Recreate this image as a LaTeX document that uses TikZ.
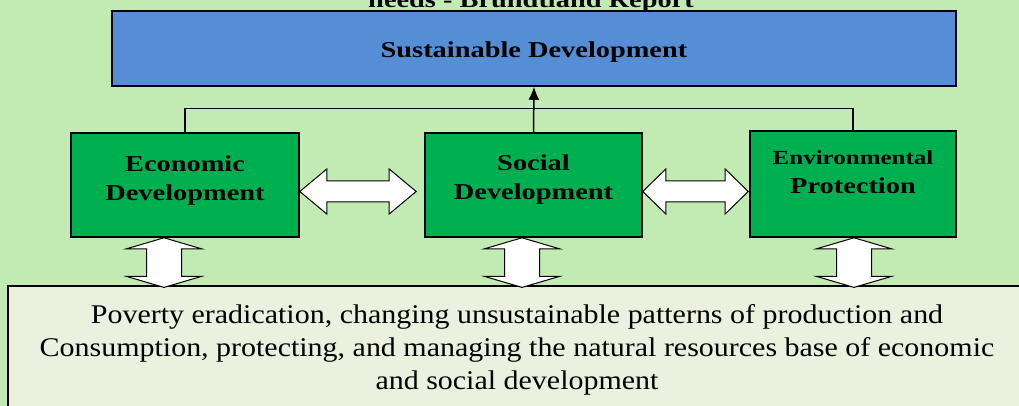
\documentclass[tikz,border=0pt]{standalone}
\usepackage{fontspec}
\setmainfont{Liberation Serif}[FakeStretch=1.11]
\newfontfamily\headfont{Liberation Serif}[FakeStretch=1.25]
\usetikzlibrary{arrows.meta, calc}

\definecolor{pagegreen}{RGB}{194,235,179}
\definecolor{sdblue}{RGB}{85,142,213}
\definecolor{devgreen}{RGB}{0,176,80}
\definecolor{basegreen}{RGB}{235,241,222}

% wide white two-way arrows
\newcommand\sidearrow[3]{%
 \draw[biarrow] let \p1=#1, \p2=#2 in
   (\x1,\y1) -- (\x1+#3,\y1+22.5pt) -- (\x1+#3,\y1+10.5pt) -- (\x2-#3,\y1+10.5pt)
   -- (\x2-#3,\y1+22.5pt) -- (\x2,\y1) -- (\x2-#3,\y1-22.5pt) -- (\x2-#3,\y1-10.5pt)
   -- (\x1+#3,\y1-10.5pt) -- (\x1+#3,\y1-22.5pt) -- cycle;}
\newcommand\basearrow[2]{%
 \draw[biarrow] let \p1=#1, \p2=#2 in
   (\x1,\y1) -- (\x1+37.5pt,\y1-11pt) -- (\x1+17.5pt,\y1-11pt) -- (\x1+17.5pt,\y2+9pt)
   -- (\x1+37.5pt,\y2+9pt) -- (\x1,\y2-2pt) -- (\x1-37.5pt,\y2+9pt) -- (\x1-17.5pt,\y2+9pt)
   -- (\x1-17.5pt,\y1-11pt) -- (\x1-37.5pt,\y1-11pt) -- cycle;}

\begin{document}
\begin{tikzpicture}[x=1pt,y=1pt,
 devbox/.style={draw,line width=1.6pt,fill=devgreen,inner sep=0pt},
 boxtext/.style={font=\headfont\bfseries\fontsize{22.7}{29}\selectfont,align=center},
 link/.style={line width=1.5pt},
 biarrow/.style={draw,fill=white,line width=1pt}]
 \fill[pagegreen] (0,0) rectangle (1019,406);
 \useasboundingbox (0,0) rectangle (1019,406);

 % heading, cut off by the page
 \node[boxtext,anchor=base] (report) at (531,398) {needs - Brundtland Report};
 \node[devbox,fill=sdblue,minimum width=844pt,minimum height=75pt,
   label={[boxtext,yshift=-4pt]center:Sustainable Development}] (sd) at (534,357.5) {};

 % the three pillars
 \node[devbox,minimum width=228pt,minimum height=104pt,
   label={[boxtext,yshift=4.5pt]center:Economic\\Development}] (econ) at (185,221) {};
 \node[devbox,minimum width=217pt,minimum height=104pt,
   label={[boxtext,yshift=5pt]center:Social\\Development}] (social) at (533.5,221) {};
 \node[devbox,minimum width=206pt,minimum height=106pt,
   label={[boxtext,yshift=12pt]center:{\fontsize{20}{28}\selectfont Environmental}\\Protection}] (env) at (853,222) {};

 \node[draw,line width=1.2pt,fill=basegreen,minimum width=1018pt,minimum height=128pt,
   align=center,font=\fontsize{27}{33}\selectfont] (base) at (517,56)
   {Poverty eradication, changing unsustainable patterns of production and\\
    Consumption, protecting, and managing the natural resources base of economic\\
    and social development};

 % links up to the top box
 \coordinate (join) at (533.5,297.5);
 \draw[link] (econ.north) |- (join);
 \draw[link] (env.north) |- (join);
 \draw[link,-{Latex[length=13pt,width=11pt]}] (social.north) -- (sd.south);

 % two-way arrows
 \sidearrow{([yshift=-6.5pt]econ.east)}{([xshift=-8pt]social.west)}{27pt}
 \sidearrow{([yshift=-6.5pt]social.east)}{([xshift=-1pt]env.west)}{23pt}
 \foreach \pillar/\dx in {econ/-21pt, social/-11.5pt, env/1pt}
   \basearrow{([xshift=\dx]\pillar.south)}{(base.north)};
\end{tikzpicture}
\end{document}
